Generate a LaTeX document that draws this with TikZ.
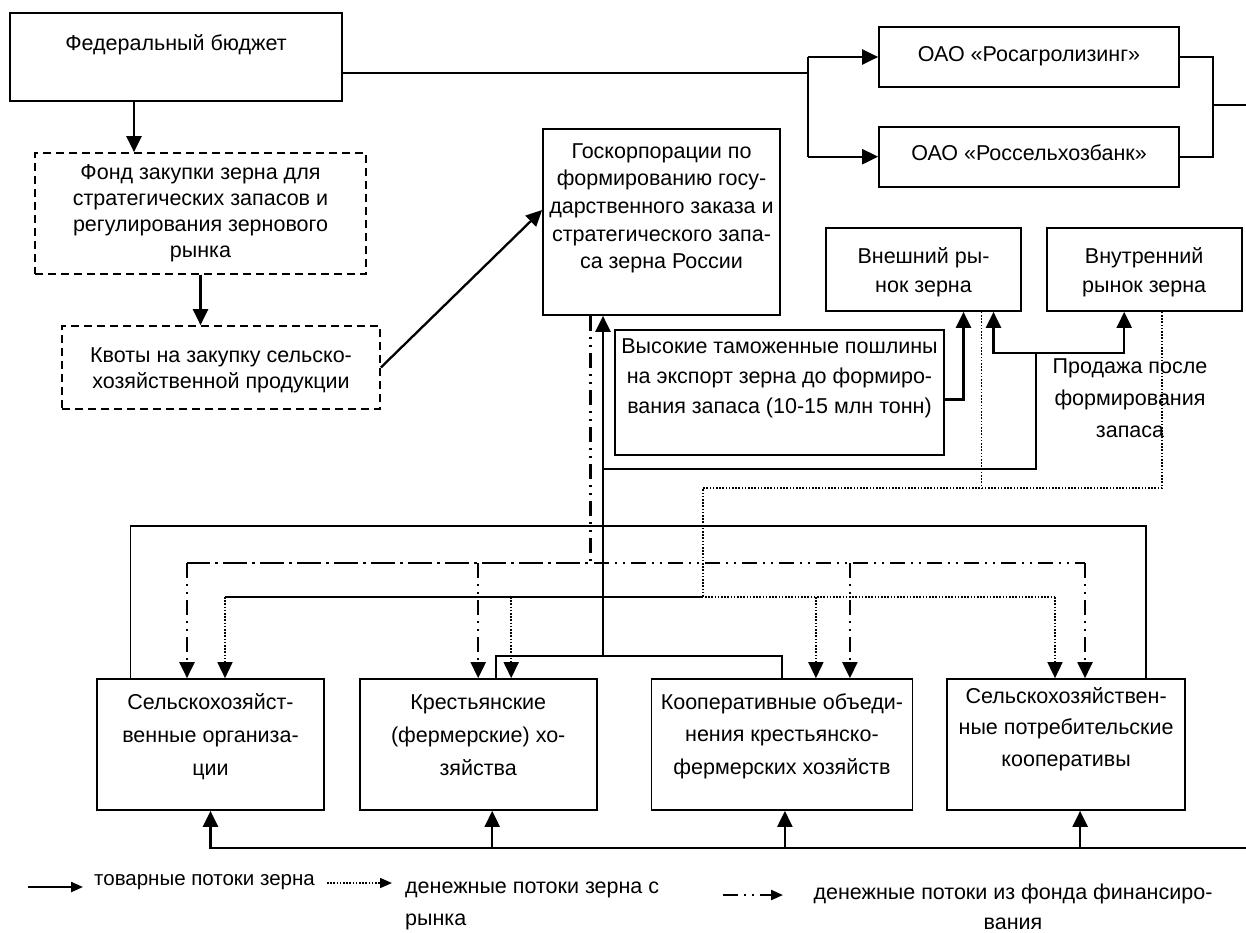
\documentclass[tikz,border=0pt]{standalone}
\usepackage{fontspec}
\setmainfont{Liberation Sans}
\usepackage{tikz}
\usetikzlibrary{positioning,arrows.meta}

% box text: width, height, first baseline, line skip, lines
\newcommand{\blocktext}[5]{\parbox[c][#2][t]{#1}{\baselineskip=#4\relax\rule{0pt}{#3}#5}}
\newcommand{\bline}[2][c]{\makebox[\linewidth][#1]{#2}}

\begin{document}
\begin{tikzpicture}[x=1pt, y=-1pt, font=\fontsize{21.5pt}{26pt}\selectfont]
  % Styles
  \tikzstyle{block}=[rectangle, draw, line width=1.7pt, inner sep=0pt]
  \tikzstyle{fundbox}=[block, dash pattern=on 8pt off 5pt]
  \tikzstyle{wire}=[line width=1.7pt]
  \tikzstyle{trunk}=[line width=2.3pt]
  \tikzstyle{headed}=[-{Triangle[length=16pt,width=15pt]}]
  \tikzstyle{goods}=[trunk, headed]
  \tikzstyle{money}=[line width=1.6pt, dash pattern=on 1.6pt off 1.6pt]
  \tikzstyle{fund}=[line width=2.2pt, dash pattern=on 15pt off 6pt on 2pt off 6pt on 2pt off 6pt]

  \useasboundingbox (0,0) rectangle (1246,932);

  % Budget and fund
  \node[block] (fed) at (176,57) {\blocktext{332pt}{88pt}{37pt}{26pt}{\bline{Федеральный бюджет}}};
  \node[fundbox] (fond) at (200.5,213.5) {\blocktext{331pt}{121pt}{26pt}{26pt}{\bline{Фонд закупки зерна для}\\\bline{стратегических запасов и}\\\bline{регулирования зернового}\\\bline{рынка}}};
  \node[fundbox] (kvoty) at (221,367.5) {\blocktext{318pt}{83pt}{36.5pt}{26pt}{\bline{Квоты на закупку сельско-}\\\bline{хозяйственной продукции}}};
  % State corporation
  \node[block] (gosk) at (661.5,222) {\blocktext{237pt}{186pt}{29pt}{27.7pt}{\bline{Госкорпорации по}\\\bline{формированию госу-}\\\bline{дарственного заказа и}\\\bline{стратегического запа-}\\\bline{са зерна России}}};
  % Banks
  \node[block] (agro) at (1029,57) {\blocktext{300pt}{60pt}{34pt}{26pt}{\bline{ОАО «Росагролизинг»}}};
  \node[block, below=38pt of agro] (bank) {\blocktext{300pt}{60pt}{34pt}{26pt}{\bline{ОАО «Россельхозбанк»}}};
  % Markets
  \node[block] (extm) at (923.5,269.5) {\blocktext{195pt}{83pt}{35pt}{29pt}{\bline{Внешний ры-}\\\bline{нок зерна}}};
  \node[block, right=24pt of extm] (intm) {\blocktext{195pt}{83pt}{35pt}{29pt}{\bline{Внутренний}\\\bline{рынок зерна}}};
  \node[block] (duty) at (779.5,392.5) {\blocktext{329pt}{125pt}{23pt}{30pt}{\bline{Высокие таможенные пошлины}\\\bline{на экспорт зерна до формиро-}\\\bline{вания запаса (10-15 млн тонн)}}};
  \node[inner sep=0pt, anchor=north] (sale) at (1130,345) {\blocktext{170pt}{100pt}{28.5pt}{32pt}{\bline{Продажа после}\\\bline{формирования}\\\bline{запаса}}};
  % Producers
  \node[block] (org) at (210.5,744.5) {\blocktext{227pt}{131pt}{30pt}{33.3pt}{\bline{Сельскохозяйст-}\\\bline{венные организа-}\\\bline{ции}}};
  \node[block, right=34pt of org] (farm) {\blocktext{237pt}{131pt}{30pt}{33.3pt}{\bline{Крестьянские}\\\bline{(фермерские) хо-}\\\bline{зяйства}}};
  \node[block, right=53pt of farm] (coop) {\blocktext{261pt}{131pt}{30pt}{32.5pt}{\bline{Кооперативные объеди-}\\\bline{нения крестьянско-}\\\bline{фермерских хозяйств}}};
  \node[block, right=33pt of coop] (cons) {\blocktext{238pt}{131pt}{24pt}{31.5pt}{\bline{Сельскохозяйствен-}\\\bline{ные потребительские}\\\bline{кооперативы}}};
  % Legend
  \node[inner sep=0pt, anchor=base west, font=\fontsize{20.5pt}{24pt}\selectfont] (keygoods) at (94,885) {товарные потоки зерна};
  \node[inner sep=0pt, anchor=north west] (keymoney) at (405,860) {\blocktext{270pt}{72pt}{33.5pt}{32pt}{\bline[l]{денежные потоки зерна с}\\\bline[l]{рынка}}};
  \node[inner sep=0pt, anchor=north] (keyfund) at (1013,866) {\blocktext{440pt}{66pt}{33.5pt}{30pt}{\bline{денежные потоки из фонда финансиро-}\\\bline{вания}}};

  % Budget -> fund -> quotas -> corporation
  \coordinate (fedout) at ([xshift=-42pt]fed.south);
  \draw[goods] (fedout) -- (fedout |- fond.north);
  \draw[goods] (fond.south) -- (fond.south |- kvoty.north);
  \coordinate (goskin) at ([yshift=12pt]gosk.west);
  \draw[goods] (kvoty.east) -- (goskin);

  % Budget -> banks
  \coordinate (fedright) at ([yshift=-16pt]fed.east);
  \coordinate (split) at (808,73);
  \draw[wire] (fedright) -- (split);
  \draw[wire] (split |- agro.west) -- (split |- bank.west);
  \draw[goods] (split |- agro.west) -- (agro.west);
  \draw[goods] (split |- bank.west) -- (bank.west);
  \coordinate (join) at (1213,105);
  \coordinate (exitA) at (1246,105);
  \draw[wire] (agro.east) -| (join) |- (bank.east);
  \draw[wire] (join) -- (exitA);

  % Banks -> producers
  \coordinate (bus) at (1246,848);
  \coordinate (farmin) at ([xshift=14pt]farm.south);
  \coordinate (coopin) at ([xshift=3pt]coop.south);
  \coordinate (consin) at ([xshift=14pt]cons.south);
  \draw[goods] (bus) -| (org.south);
  \draw[goods] (bus -| farmin) -- (farmin);
  \draw[goods] (bus -| coopin) -- (coopin);
  \draw[goods] (bus -| consin) -- (consin);

  % Frame over producers
  \coordinate (ringL) at ([xshift=-80pt]org.north);
  \coordinate (ringR) at (1146,526);
  \draw[wire] (ringL) |- (ringR) -- (ringR |- cons.north);

  % Grain to corporation and markets
  \coordinate (hub) at (603,656);
  \coordinate (farmout) at ([xshift=18pt]farm.north);
  \draw[trunk] (farmout) |- (hub) -| (coop.north);
  \draw[goods] (hub) -- (hub |- gosk.south);
  \coordinate (sell) at (603,469);
  \coordinate (sellup) at (1036,353);
  \draw[trunk] (sell) -| (sellup);
  \coordinate (extin) at ([xshift=70pt]extm.south);
  \coordinate (intin) at ([xshift=-20pt]intm.south);
  \draw[goods] (sellup) -| (extin);
  \draw[goods] (sellup) -| (intin);
  \coordinate (dutyin) at ([xshift=40pt]extm.south);
  \draw[goods] ([yshift=-7pt]duty.east) -| (dutyin);

  % Money from the fund
  \coordinate (goskfund) at ([xshift=-71pt]gosk.south);
  \coordinate (fundL) at (187,563);
  \coordinate (fundR) at (1085,563);
  \coordinate (coopfund) at ([xshift=68pt]coop.north);
  \draw[fund] (goskfund) |- (fundL);
  \draw[fund] (fundL) -- (fundR);
  \draw[fund, headed] (fundL) -- (fundL |- org.north);
  \draw[fund, headed] (fundL -| farm.north) -- (farm.north);
  \draw[fund, headed] (fundL -| coopfund) -- (coopfund);
  \draw[fund, headed] (fundR) -- (fundR |- cons.north);

  % Money from the market
  \coordinate (extout) at ([xshift=58pt]extm.south);
  \coordinate (intout) at ([xshift=18pt]intm.south);
  \coordinate (mkt) at (703,488);
  \coordinate (mktL) at (225,597);
  \coordinate (mktR) at (1055,597);
  \coordinate (farmmkt) at ([xshift=33pt]farm.north);
  \coordinate (coopmkt) at ([xshift=34pt]coop.north);
  \draw[money] (extout) -- (extout |- mkt);
  \draw[money] (intout) |- (mkt) |- (mktL);
  \draw[money] (mktL) -- (mktR);
  \draw[money, headed] (mktL) -- (mktL |- org.north);
  \draw[money, headed] (mktL -| farmmkt) -- (farmmkt);
  \draw[money, headed] (mktL -| coopmkt) -- (coopmkt);
  \draw[money, headed] (mktR) -- (mktR |- cons.north);

  % Legend keys
  \coordinate (kg1) at (28,887);  \coordinate (kg2) at (83,887);
  \coordinate (km1) at (327,883); \coordinate (km2) at (392,883);
  \coordinate (kf1) at (723,895); \coordinate (kf2) at (783,895);
  \draw[trunk, -{Triangle[length=12pt,width=10pt]}] (kg1) -- (kg2);
  \draw[money, -{Triangle[length=12pt,width=10pt]}] (km1) -- (km2);
  \draw[fund, -{Triangle[length=12pt,width=10pt]}] (kf1) -- (kf2);
\end{tikzpicture}
\end{document}
